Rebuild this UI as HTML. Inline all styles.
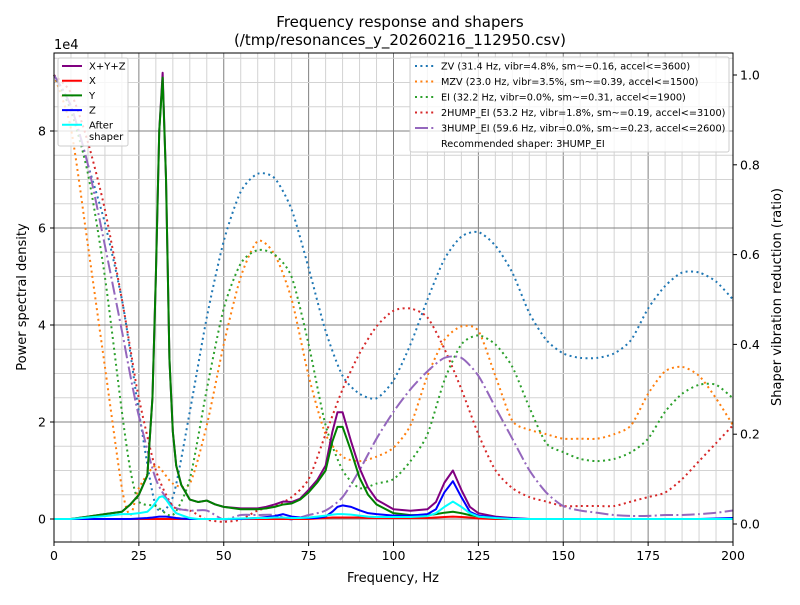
<!DOCTYPE html>
<html><head><meta charset="utf-8"><style>
body{margin:0;background:#fff;font-family:"Liberation Sans","DejaVu Sans",sans-serif}
svg text{font-family:"DejaVu Sans","Liberation Sans",sans-serif}
</style></head><body>
<svg id="chart" width="800" height="600" xmlns="http://www.w3.org/2000/svg">
<rect width="800" height="600" fill="#fff"/>
<g id="grid"></g>
<g id="series"></g>
<rect x="54" y="53" width="679" height="489" fill="none" stroke="#000" stroke-width="1"/>
<g id="axes"></g>
<text x="400" y="27" text-anchor="middle" font-size="15">Frequency response and shapers</text>
<text x="400" y="45" text-anchor="middle" font-size="15">(/tmp/resonances_y_20260216_112950.csv)</text>
<text x="393" y="582" text-anchor="middle" font-size="13">Frequency, Hz</text>
<text transform="translate(26,297) rotate(-90)" text-anchor="middle" font-size="13">Power spectral density</text>
<text transform="translate(781,297) rotate(-90)" text-anchor="middle" font-size="13">Shaper vibration reduction (ratio)</text>
<text x="54" y="49" font-size="13">1e4</text>
<g id="legend-left"></g>
<g id="legend-right"></g>
</svg>
<script>
const psdFreq=[0,5,10,15,20,22.5,25,27.5,29,30,31,32,33,34,35,36,37.5,40,42.5,45,47.5,50,55,60,62.5,65,67.5,70,72.5,75,77.5,80,82,83.5,85,87.5,90,92.5,95,100,105,110,112.5,115,117.5,120,122.5,125,130,135,140,150,160,170,180,190,200];
const psdXYZ=[0,0,0.05,0.1,0.15,0.3,0.5,0.9,2.5,5.0,8.0,9.2,7.0,3.3,1.8,1.1,0.7,0.4,0.35,0.38,0.3,0.25,0.22,0.22,0.25,0.3,0.36,0.35,0.42,0.6,0.8,1.1,1.8,2.2,2.2,1.6,1.05,0.65,0.4,0.2,0.17,0.2,0.35,0.75,1.0,0.6,0.25,0.12,0.05,0.02,0,0,0,0,0,0,0];
const psdX=[0,0,0,0,0,0,0,0,0,0,0,0,0,0,0,0,0,0,0,0,0,0,0,0,0,0,0,0,0,0,0.01,0.02,0.03,0.03,0.03,0.03,0.03,0.02,0.02,0.02,0.02,0.02,0.03,0.04,0.05,0.04,0.03,0.01,0,0,0,0,0,0,0,0,0];
const psdY=[0,0,0.05,0.1,0.15,0.3,0.5,0.9,2.5,5.0,8.0,9.1,7.0,3.3,1.8,1.1,0.7,0.4,0.35,0.38,0.3,0.25,0.2,0.2,0.22,0.25,0.3,0.32,0.4,0.55,0.75,1.0,1.6,1.9,1.9,1.4,0.85,0.5,0.3,0.12,0.08,0.08,0.1,0.13,0.15,0.12,0.08,0.05,0.02,0,0,0,0,0,0,0,0];
const psdZ=[0,0,0,0,0,0,0.01,0.02,0.03,0.04,0.05,0.05,0.05,0.04,0.03,0.02,0.01,0,0,0,0,0,0,0.02,0.04,0.06,0.1,0.05,0.03,0.02,0.02,0.05,0.15,0.25,0.28,0.25,0.18,0.12,0.1,0.07,0.07,0.1,0.2,0.55,0.78,0.45,0.15,0.07,0.03,0.01,0,0,0,0,0,0,0.02];
const psdAfter=[0,0,0.03,0.06,0.1,0.1,0.12,0.15,0.25,0.35,0.45,0.47,0.4,0.3,0.2,0.12,0.08,0.02,0,0,0,0,0.01,0.02,0.02,0.03,0.03,0.02,0.02,0.03,0.05,0.07,0.09,0.1,0.1,0.09,0.07,0.05,0.04,0.04,0.04,0.06,0.12,0.25,0.36,0.25,0.12,0.05,0.02,0,0,0,0,0,0,0,0];
const shFreq=[0,5,10,15,20,22.5,25,30,35,40,45,50,55,60,65,70,75,80,85,90,95,100,105,110,115,120,125,130,135,140,145,150,155,160,165,170,175,180,185,190,195,200];
const shZV=[1.0,0.93,0.8,0.67,0.5,0.38,0.25,0.04,0.06,0.25,0.46,0.63,0.74,0.78,0.77,0.7,0.57,0.43,0.33,0.29,0.28,0.32,0.4,0.5,0.59,0.64,0.65,0.62,0.56,0.47,0.41,0.38,0.37,0.37,0.38,0.41,0.48,0.53,0.56,0.56,0.54,0.5];
const shMZV=[1.0,0.88,0.62,0.35,0.08,0.02,0.08,0.13,0.09,0.09,0.22,0.4,0.55,0.63,0.6,0.5,0.33,0.2,0.15,0.14,0.15,0.17,0.22,0.33,0.41,0.44,0.43,0.33,0.23,0.21,0.2,0.19,0.19,0.19,0.2,0.22,0.29,0.34,0.35,0.33,0.28,0.22];
const shEI=[1.0,0.92,0.78,0.55,0.25,0.12,0.05,0.04,0.02,0.1,0.3,0.48,0.58,0.61,0.6,0.55,0.4,0.22,0.12,0.08,0.09,0.1,0.14,0.2,0.32,0.4,0.42,0.4,0.35,0.26,0.18,0.16,0.145,0.14,0.145,0.16,0.19,0.25,0.29,0.31,0.31,0.28];
const sh2HUMP=[1.0,0.96,0.85,0.7,0.5,0.39,0.28,0.12,0.04,0.03,0.01,0.005,0.01,0.03,0.04,0.06,0.1,0.2,0.3,0.38,0.44,0.475,0.48,0.46,0.39,0.3,0.2,0.12,0.08,0.06,0.05,0.04,0.04,0.04,0.04,0.05,0.06,0.07,0.1,0.14,0.18,0.22];
const sh3HUMP=[1.0,0.93,0.8,0.62,0.43,0.33,0.24,0.1,0.04,0.03,0.03,0.01,0.02,0.02,0.02,0.01,0.02,0.03,0.06,0.12,0.19,0.25,0.3,0.34,0.37,0.37,0.33,0.26,0.19,0.12,0.07,0.04,0.03,0.025,0.02,0.018,0.018,0.02,0.02,0.022,0.025,0.03];
const xTicks=[0,25,50,75,100,125,150,175,200];
const yTicks=[0,2,4,6,8];
const rTicks=[0,0.2,0.4,0.6,0.8,1.0];

const NS="http://www.w3.org/2000/svg";
const X0=54,X1=733,Y0=53,Y1=542;
const xs=f=>X0+(f-0)/200*(X1-X0);
const ys=v=>519-v*48.5;
const rs=r=>524-r*449;
function mk(tag,attrs,parent){const e=document.createElementNS(NS,tag);for(const k in attrs)e.setAttribute(k,attrs[k]);parent.appendChild(e);return e;}
const grid=document.getElementById('grid'),axes=document.getElementById('axes'),series=document.getElementById('series');
for(let f=0;f<=200;f+=5){const major=f%25===0;const l=mk('line',{x1:xs(f),x2:xs(f),y1:Y0,y2:Y1,stroke:major?'#808080':'#d3d3d3','stroke-width':1},grid);

}
for(let v=-0.5;v<=9.5;v+=0.5){const major=Math.abs(v%2)<1e-9;const y=ys(v);if(y<Y0||y>Y1)continue;const l=mk('line',{x1:X0,x2:X1,y1:y,y2:y,stroke:major?'#808080':'#d3d3d3','stroke-width':1},grid);

}
xTicks.forEach(t=>{mk('line',{x1:xs(t),x2:xs(t),y1:Y1,y2:Y1+4,stroke:'#000'},axes);const tx=mk('text',{x:xs(t),y:Y1+18,'text-anchor':'middle','font-size':12.5},axes);tx.textContent=t;

});
yTicks.forEach(t=>{mk('line',{x1:X0-4,x2:X0,y1:ys(t),y2:ys(t),stroke:'#000'},axes);const tx=mk('text',{x:X0-8,y:ys(t)+4.5,'text-anchor':'end','font-size':12.5},axes);tx.textContent=t;

});
rTicks.forEach(t=>{mk('line',{x1:X1,x2:X1+4,y1:rs(t),y2:rs(t),stroke:'#000'},axes);const tx=mk('text',{x:X1+7,y:rs(t)+4.5,'font-size':12.5},axes);tx.textContent=t.toFixed(1);

});
function smoothPath(fx,vals,sc){const lim=sc(-0.003);const p=fx.map((f,i)=>[xs(f),sc(vals[i])]);let d='M'+p[0][0]+','+p[0][1];
const cl=y=>Math.min(lim,y);
for(let i=0;i<p.length-1;i++){const a=p[Math.max(0,i-1)],b=p[i],c=p[i+1],e=p[Math.min(p.length-1,i+2)];
d+=' C'+(b[0]+(c[0]-a[0])/8)+','+cl(b[1]+(c[1]-a[1])/8)+' '+(c[0]-(e[0]-b[0])/8)+','+cl(c[1]-(e[1]-b[1])/8)+' '+c[0]+','+c[1];}return d;}
function linePath(fx,vals,sc){return fx.map((f,i)=>(i?'L':'M')+xs(f)+','+sc(vals[i])).join(' ');}
function addSeries(name,d,color,w,dash){const p=mk('path',{d:d,fill:'none',stroke:color,'stroke-width':w,'stroke-linejoin':'round'},series);if(dash)p.setAttribute('stroke-dasharray',dash);

}
const dot='2 3.4';
addSeries('zv-curve',smoothPath(shFreq,shZV,rs),'#1f77b4',2,dot);
addSeries('mzv-curve',smoothPath(shFreq,shMZV,rs),'#ff7f0e',2,dot);
addSeries('ei-curve',smoothPath(shFreq,shEI,rs),'#2ca02c',2,dot);
addSeries('2hump-ei-curve',smoothPath(shFreq,sh2HUMP,rs),'#d62728',2,dot);
addSeries('3hump-ei-curve',smoothPath(shFreq,sh3HUMP,rs),'#9467bd',2,'13 3.3 2 3.3');
addSeries('psd-xyz-line',linePath(psdFreq,psdXYZ,ys),'purple',2);
addSeries('psd-x-line',linePath(psdFreq,psdX,ys),'red',2);
addSeries('psd-y-line',linePath(psdFreq,psdY,ys),'green',2);
addSeries('psd-z-line',linePath(psdFreq,psdZ,ys),'blue',2);
addSeries('psd-after-shaper-line',linePath(psdFreq,psdAfter,ys),'cyan',2);
// legends
const LL=document.getElementById('legend-left');
mk('rect',{x:58,y:58,width:70,height:88,rx:2,fill:'#fff','fill-opacity':0.8,stroke:'#ccc'},LL);
[['X+Y+Z','purple'],['X','red'],['Y','green'],['Z','blue'],['After','cyan']].forEach((e,i)=>{const y=66+i*14.7;
mk('line',{x1:62,x2:82,y1:y,y2:y,stroke:e[1],'stroke-width':2},LL);
const t=mk('text',{x:89,y:y+3.5,'font-size':10},LL);t.textContent=e[0];

});
const t2=mk('text',{x:89,y:140,'font-size':10},LL);t2.textContent='shaper';


const LR=document.getElementById('legend-right');
mk('rect',{x:410,y:57,width:319,height:95,rx:2,fill:'#fff','fill-opacity':0.8,stroke:'#ccc'},LR);
[['ZV (31.4 Hz, vibr=4.8%, sm~=0.16, accel<=3600)','#1f77b4',dot],['MZV (23.0 Hz, vibr=3.5%, sm~=0.39, accel<=1500)','#ff7f0e',dot],['EI (32.2 Hz, vibr=0.0%, sm~=0.31, accel<=1900)','#2ca02c',dot],['2HUMP_EI (53.2 Hz, vibr=1.8%, sm~=0.19, accel<=3100)','#d62728',dot],['3HUMP_EI (59.6 Hz, vibr=0.0%, sm~=0.23, accel<=2600)','#9467bd','13 3.3 2 3.3'],['Recommended shaper: 3HUMP_EI',null,null]].forEach((e,i)=>{const y=66+i*15.5;
if(e[1]){mk('line',{x1:415,x2:435,y1:y,y2:y,stroke:e[1],'stroke-width':2,'stroke-dasharray':e[2]},LR);}
const t=mk('text',{x:441,y:y+3.5,'font-size':9.7},LR);t.textContent=e[0];

});
</script>
</body></html>
